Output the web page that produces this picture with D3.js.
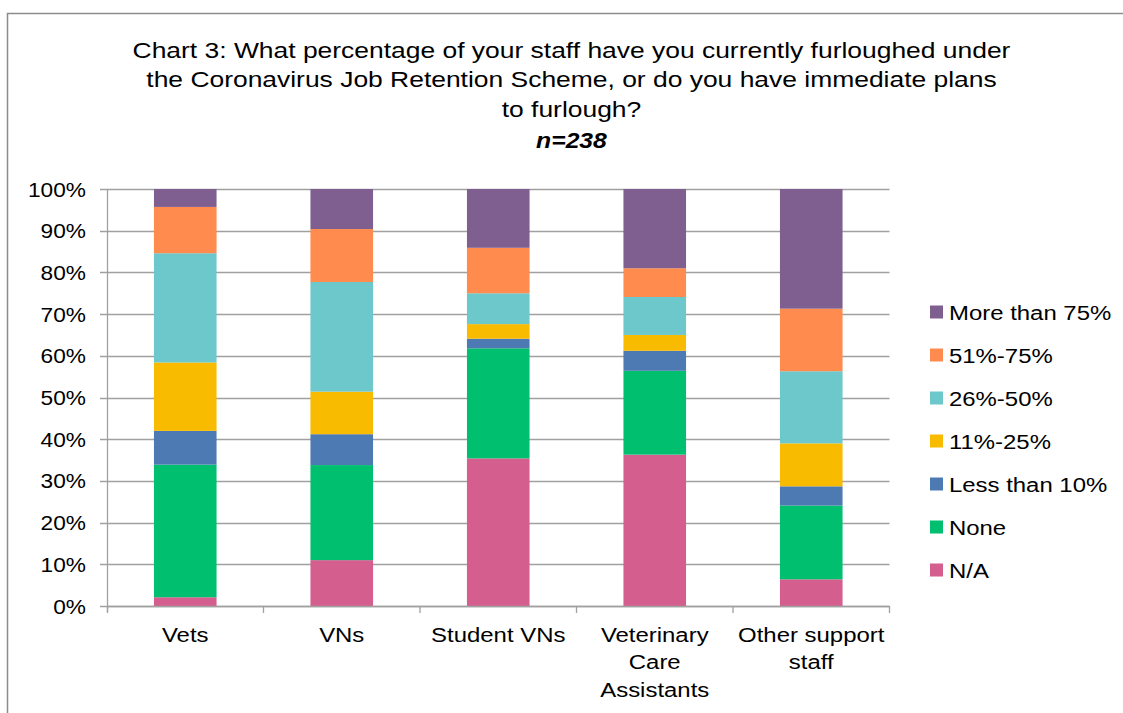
<!DOCTYPE html>
<html>
<head>
<meta charset="utf-8">
<script src="https://cdn.jsdelivr.net/npm/d3@7"></script>
<style>
  html, body { margin: 0; padding: 0; background: #fff; }
  svg { display: block; font-family: "Liberation Sans", Arial, sans-serif; }
</style>
</head>
<body>
<svg id="chart" width="1123" height="713"></svg>
<script>
const categories = ["Vets", "VNs", "Student VNs", "Veterinary Care Assistants", "Other support staff"];
const categoryLines = [["Vets"], ["VNs"], ["Student VNs"], ["Veterinary", "Care", "Assistants"], ["Other support", "staff"]];
const seriesNames = ["N/A", "None", "Less than 10%", "11%-25%", "26%-50%", "51%-75%", "More than 75%"];
const naValues      = [2.1, 11.0, 35.4, 36.3, 6.4];
const noneValues    = [31.8, 22.8, 26.4, 20.1, 17.7];
const lt10Values    = [8.1, 7.4, 2.3, 4.8, 4.6];
const p11_25Values  = [16.4, 10.2, 3.5, 3.8, 10.3];
const p26_50Values  = [26.2, 26.3, 7.4, 9.1, 17.3];
const p51_75Values  = [11.1, 12.7, 10.9, 6.9, 15.0];
const gt75Values    = [4.3, 9.6, 14.1, 19.0, 28.7];
const seriesColors  = ["#d45f8f", "#00bf6f", "#4e7ab3", "#f8bb00", "#6dc8cc", "#ff8b4f", "#7e5f8f"];
const yTicks = [0, 10, 20, 30, 40, 50, 60, 70, 80, 90, 100];
const titleLines = ["Chart 3: What percentage of your staff have you currently furloughed under",
                    "the Coronavirus Job Retention Scheme, or do you have immediate plans",
                    "to furlough?"];
const subtitle = "n=238";

const seriesValues = [naValues, noneValues, lt10Values, p11_25Values, p26_50Values, p51_75Values, gt75Values];
const table = categories.map((c, i) => {
  const row = { category: c };
  seriesNames.forEach((s, j) => row[s] = seriesValues[j][i]);
  return row;
});
const stacked = d3.stack().keys(seriesNames)(table);

const svg = d3.select("#chart");
const stretch = (cx, s) => `translate(${cx},0) scale(${s},1) translate(${-cx},0)`;

// outer border
svg.append("rect").attr("x", 7.5).attr("y", 13.5).attr("width", 1300).attr("height", 900)
  .attr("fill", "none").attr("stroke", "#8c8c8c").attr("stroke-width", 1.5);

// title
const title = svg.append("text").attr("text-anchor", "middle").attr("font-size", 21.5).attr("fill", "#000")
  .attr("transform", stretch(571.5, 1.23));
titleLines.forEach((t, i) => {
  title.append("tspan").attr("x", 571.5).attr("y", 58 + i * 29.5).text(t);
});
svg.append("text").attr("x", 571.5).attr("y", 148).attr("text-anchor", "middle")
  .attr("transform", stretch(571.5, 1.15))
  .attr("font-size", 21.5).attr("font-weight", "bold").attr("font-style", "italic").text(subtitle);

const x = d3.scaleBand().domain(categories).range([107, 889.5]).paddingInner(0.6).paddingOuter(0.3);
const y = d3.scaleLinear().domain([0, 100]).range([606, 189]);

// gridlines
svg.append("g").selectAll("line").data(yTicks).join("line")
  .attr("x1", 100).attr("x2", 889.5)
  .attr("y1", d => Math.round(y(d)) + 0.5).attr("y2", d => Math.round(y(d)) + 0.5)
  .attr("stroke", "#a0a0a0").attr("stroke-width", 1.3);

// y axis line
svg.append("line").attr("x1", 107.5).attr("x2", 107.5).attr("y1", 189).attr("y2", 612)
  .attr("stroke", "#a0a0a0").attr("stroke-width", 1.3);

// y tick labels
svg.append("g").attr("transform", stretch(86, 1.08)).selectAll("text").data(yTicks).join("text")
  .attr("x", 86).attr("y", d => y(d)).attr("dy", "0.36em")
  .attr("text-anchor", "end").attr("font-size", 21).attr("fill", "#000")
  .text(d => d + "%");

// bars
svg.append("g").selectAll("g").data(stacked).join("g")
  .attr("fill", (d, i) => seriesColors[i])
  .selectAll("rect").data(d => d).join("rect")
  .attr("x", d => x(d.data.category))
  .attr("width", x.bandwidth())
  .attr("y", d => y(d[1]))
  .attr("height", d => y(d[0]) - y(d[1]));

// x axis line and ticks
svg.append("line").attr("x1", 107).attr("x2", 889.5).attr("y1", 606.5).attr("y2", 606.5)
  .attr("stroke", "#a0a0a0").attr("stroke-width", 1.3);
const boundaries = categories.map(c => x(c) - x.step() * x.paddingInner() / 2).concat([889.5]);
boundaries[0] = 107.5;
svg.append("g").selectAll("line").data(boundaries).join("line")
  .attr("x1", d => d).attr("x2", d => d).attr("y1", 606).attr("y2", 613)
  .attr("stroke", "#a0a0a0").attr("stroke-width", 1.3);

// x labels
categories.forEach((c, i) => {
  const cx = x(c) + x.bandwidth() / 2;
  const t = svg.append("text").attr("text-anchor", "middle").attr("font-size", 21).attr("fill", "#000")
    .attr("transform", stretch(cx, 1.14));
  categoryLines[i].forEach((ln, k) => {
    t.append("tspan").attr("x", cx).attr("y", 642 + k * 27.3).text(ln);
  });
});

// legend
const legendOrder = seriesNames.slice().reverse();
const lg = svg.append("g");
legendOrder.forEach((s, i) => {
  const cy = 312 + i * 43;
  lg.append("rect").attr("x", 930).attr("y", cy - 6.5).attr("width", 13).attr("height", 13)
    .attr("fill", seriesColors[seriesNames.indexOf(s)]);
  lg.append("text").attr("x", 949).attr("y", cy).attr("dy", "0.36em")
    .attr("transform", stretch(949, 1.14))
    .attr("font-size", 21).attr("fill", "#000").text(s);
});
</script>
</body>
</html>
